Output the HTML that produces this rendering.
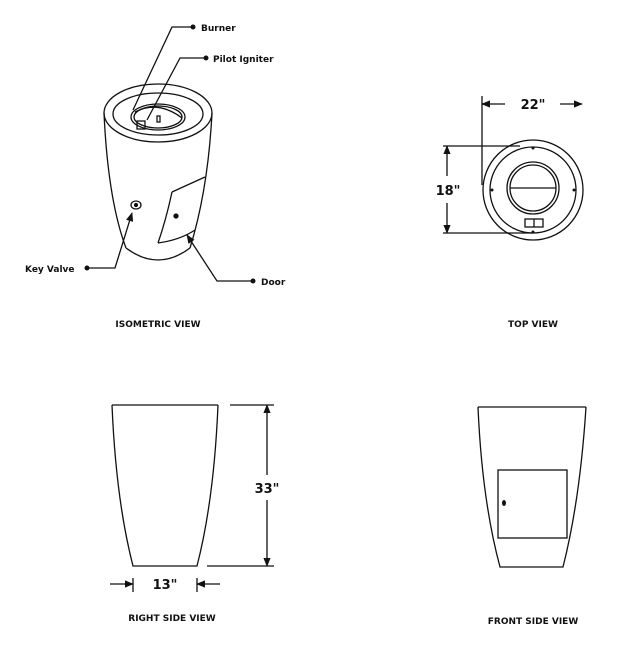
<!DOCTYPE html>
<html><head><style>
html,body{margin:0;padding:0;background:#fff;}
svg{display:block;}
text{font-family:"DejaVu Sans","Liberation Sans",sans-serif;font-weight:bold;fill:#111;}
</style></head><body>
<svg width="643" height="651" viewBox="0 0 643 651" xmlns="http://www.w3.org/2000/svg">
<defs>
<marker id="ah" viewBox="0 0 10 10" refX="9" refY="5" markerWidth="7" markerHeight="7" orient="auto-start-reverse"><path d="M0,1 L10,5 L0,9 z" fill="#111"/></marker>
</defs>
<g fill="none" stroke="#111" stroke-width="1.3">
<!-- Isometric -->
<ellipse cx="158" cy="113" rx="54" ry="29"/>
<ellipse cx="158" cy="114" rx="45" ry="21"/>
<ellipse cx="158" cy="117" rx="27" ry="13"/>
<ellipse cx="158" cy="117" rx="24" ry="11"/>
<path d="M135,112 Q158,100 182,118"/>
<rect x="137" y="121" width="8" height="8"/>
<rect x="157" y="116" width="3" height="6"/>
<path d="M104,113 Q108,200 126,248"/>
<path d="M212,113 Q208,190 190,248"/>
<path d="M126,248 Q158,272 190,248"/>
<path d="M172,192 L205,177"/>
<path d="M172,192 Q166,220 158,243"/>
<path d="M158,243 Q180,240 195,230"/>
<ellipse cx="136" cy="205" rx="5" ry="4"/>
<circle cx="136" cy="205" r="1.5" fill="#111"/>
<circle cx="176" cy="216" r="2" fill="#111"/>
<!-- leaders -->
<path d="M193,27 H172 L133,110"/>
<path d="M206,58 H180 L147,120"/>
<path d="M87,268 H115 L132,213" marker-end="url(#ah)"/>
<path d="M253,281 H217 L187,235" marker-end="url(#ah)"/>
<!-- Top view -->
<circle cx="533" cy="190" r="50"/>
<circle cx="533" cy="190" r="43"/>
<circle cx="533" cy="188" r="26"/>
<circle cx="533" cy="188" r="23"/>
<path d="M510,188 H556"/>
<rect x="525" y="219" width="18" height="8"/>
<path d="M534,219 V227"/>
<path d="M482,96 V185"/>
<path d="M482,104 H505" marker-start="url(#ah)"/>
<path d="M560,104 H582" marker-end="url(#ah)"/>
<path d="M443,146 H520"/>
<path d="M443,233 H533"/>
<path d="M447,146 V176" marker-start="url(#ah)"/>
<path d="M447,203 V233" marker-end="url(#ah)"/>
<!-- Right side -->
<path d="M112,405 H218"/>
<path d="M112,405 Q116,500 133,566 H197 Q214,500 218,405"/>
<path d="M230,405 H274"/>
<path d="M207,566 H274"/>
<path d="M267,405 V475" marker-start="url(#ah)"/>
<path d="M267,500 V566" marker-end="url(#ah)"/>
<path d="M133,578 V592"/>
<path d="M197,578 V592"/>
<path d="M110,584 H133" marker-end="url(#ah)"/>
<path d="M220,584 H197" marker-end="url(#ah)"/>
<!-- Front side -->
<path d="M478,407 H586"/>
<path d="M478,407 Q482,500 500,567 H563 Q580,500 586,407"/>
<rect x="498" y="470" width="69" height="68"/>
</g>
<circle cx="193" cy="27" r="2.5" fill="#111"/>
<circle cx="206" cy="58" r="2.5" fill="#111"/>
<circle cx="87" cy="268" r="2.5" fill="#111"/>
<circle cx="253" cy="281" r="2.5" fill="#111"/>
<circle cx="533" cy="148" r="1.5" fill="#111"/>
<circle cx="533" cy="232" r="1.5" fill="#111"/>
<circle cx="492" cy="190" r="1.5" fill="#111"/>
<circle cx="574" cy="190" r="1.5" fill="#111"/>
<ellipse cx="504" cy="503" rx="2" ry="3" fill="#111"/>
<text x="201" y="31" font-size="9">Burner</text>
<text x="213" y="62" font-size="9">Pilot Igniter</text>
<text x="25" y="272" font-size="9">Key Valve</text>
<text x="261" y="285" font-size="9">Door</text>
<text x="533" y="109" font-size="13" text-anchor="middle">22"</text>
<text x="448" y="195" font-size="13" text-anchor="middle">18"</text>
<text x="267" y="493" font-size="13" text-anchor="middle">33"</text>
<text x="165" y="589" font-size="13" text-anchor="middle">13"</text>
<text x="158" y="327" font-size="9" text-anchor="middle">ISOMETRIC VIEW</text>
<text x="533" y="327" font-size="9" text-anchor="middle">TOP VIEW</text>
<text x="172" y="621" font-size="9" text-anchor="middle">RIGHT SIDE VIEW</text>
<text x="533" y="624" font-size="9" text-anchor="middle">FRONT SIDE VIEW</text>
</svg>
</body></html>
